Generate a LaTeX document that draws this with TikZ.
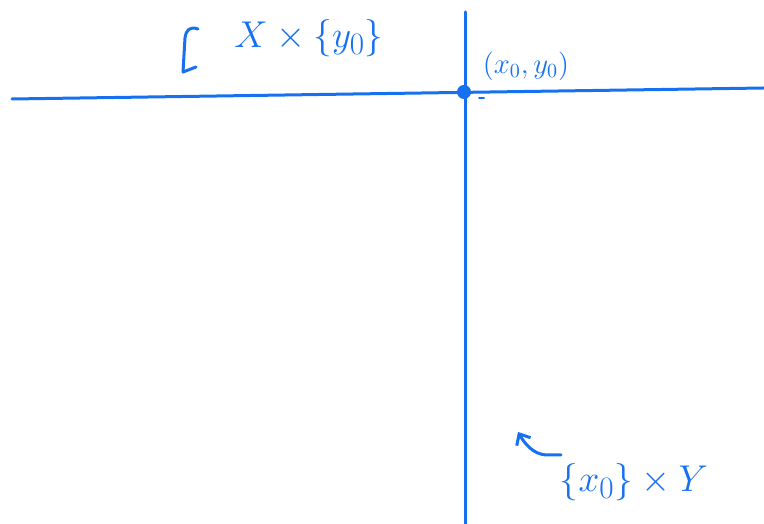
\documentclass[tikz,border=0pt]{standalone}
\usepackage{amsmath,amssymb}
\usetikzlibrary{positioning,arrows.meta}
\definecolor{ink}{RGB}{22,112,240}

\begin{document}
\begin{tikzpicture}[x=1pt,y=1pt,
    pen/.style={draw=ink,line width=3pt,line cap=round,line join=round},
    lbl/.style={text=ink,inner sep=0pt}]
  \useasboundingbox (0,0) rectangle (764,524);
  % axes through (x0,y0)
  \coordinate (xl) at (12,425);
  \coordinate (xr) at (764,436);
  \coordinate (yt) at (465,512);
  \coordinate (yb) at (465,0);
  \draw[pen] (xl) -- (xr);
  \draw[pen] (yt) -- (yb);
  \node[circle,fill=ink,inner sep=0pt,minimum size=14pt] (p0) at (464,432) {};
  \draw[pen,line width=2pt] (479,426) -- (484,426);
  \node[lbl,font=\Large,scale=2] (p0lbl) at (526,458) {$(x_0,y_0)$};
  % horizontal slice
  \node[lbl,font=\Huge,scale=1.5] (hlbl) at (309,486) {$X\times\{y_0\}$};
  \draw[pen] (198,495) .. controls (190,498) and (186,494) .. (185,486) -- (183,452) -- (196,457);
  % vertical slice
  \node[lbl,font=\Huge,scale=1.5] (vlbl) at (634,42) {$\{x_0\}\times Y$};
  \coordinate (vtail) at (561,69);
  \coordinate (vtip) at (518,92);
  \draw[pen,-{Straight Barb[length=9pt,width=16pt]}] (vtail) -- (546,69) .. controls (533,70) and (525,80) .. (vtip);
\end{tikzpicture}
\end{document}
